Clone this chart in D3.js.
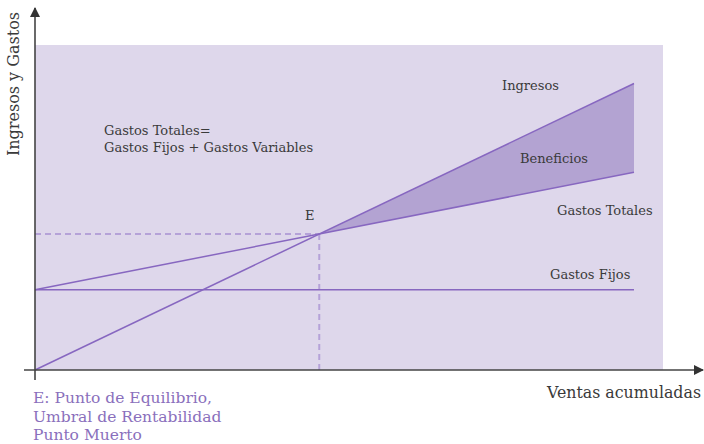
<!DOCTYPE html>
<html>
<head>
<meta charset="UTF-8">
<title>Punto de Equilibrio</title>
<style>
body { margin:0; background:#fff; }
svg { display:block; font-family:"DejaVu Serif", "Liberation Serif", serif; }
.lbl { fill:#3a3a3a; font-size:13px; }
.note { fill:#8a6fbc; font-size:15.5px; }
</style>
</head>
<body>
<svg width="704" height="444"></svg>
<script src="https://cdn.jsdelivr.net/npm/d3@7"></script>
<script>
// ventas (0-100) and the three lines, in arbitrary units
const ventas = [0, 100];
const ingresos = [0, 100];
const gastosFijos = [28, 28];
const gastosTotales = [28, 69];
const labels = [
  {t:'Ingresos', x:502, y:90},
  {t:'Beneficios', x:520, y:163},
  {t:'Gastos Totales', x:557, y:215},
  {t:'Gastos Fijos', x:550, y:279},
  {t:'E', x:305, y:220},
  {t:'Gastos Totales=', x:104, y:135},
  {t:'Gastos Fijos + Gastos Variables', x:104, y:152}
];
const notes = ['E: Punto de Equilibrio,', 'Umbral de Rentabilidad', 'Punto Muerto'];

const svg = d3.select('svg');
const x = d3.scaleLinear().domain([0, 100]).range([35, 634]);
const y = d3.scaleLinear().domain([0, 100]).range([370, 83.5]);

// plot background
svg.append('rect').attr('x', 35).attr('y', 45).attr('width', 628).attr('height', 325).attr('fill', '#ded7eb');

// break-even point
const be = gastosFijos[0] / (1 - (gastosTotales[1] - gastosTotales[0]) / (ventas[1] - ventas[0]));
const ingAt = v => d3.scaleLinear().domain(ventas).range(ingresos)(v);
const gtAt = v => d3.scaleLinear().domain(ventas).range(gastosTotales)(v);

// beneficios area
svg.append('path')
  .datum([be, ventas[1]])
  .attr('fill', '#b3a3d2')
  .attr('d', d3.area().x(d => x(d)).y0(d => y(gtAt(d))).y1(d => y(ingAt(d))));

// dashed guides
svg.append('line').attr('x1', x(0)).attr('x2', x(be)).attr('y1', y(ingAt(be))).attr('y2', y(ingAt(be)))
  .attr('stroke', '#b5a2d8').attr('stroke-width', 2).attr('stroke-dasharray', '6,4');
svg.append('line').attr('x1', x(be)).attr('x2', x(be)).attr('y1', y(ingAt(be))).attr('y2', y(0))
  .attr('stroke', '#b5a2d8').attr('stroke-width', 2).attr('stroke-dasharray', '6,4');

const line = d3.line().x(d => x(d[0])).y(d => y(d[1]));
[ingresos, gastosFijos, gastosTotales].forEach(s => {
  svg.append('path').datum(ventas.map((v, i) => [v, s[i]]))
    .attr('fill', 'none').attr('stroke', '#8767c0').attr('stroke-width', 1.5).attr('d', line);
});

// axes with arrows
svg.append('defs').append('marker').attr('id', 'arr').attr('viewBox', '0 0 10 10')
  .attr('refX', 9).attr('refY', 5).attr('markerWidth', 10).attr('markerHeight', 10)
  .attr('markerUnits', 'userSpaceOnUse').attr('orient', 'auto')
  .append('path').attr('d', 'M0,0L10,5L0,10Z').attr('fill', '#333');
svg.append('line').attr('x1', 35).attr('x2', 35).attr('y1', 380).attr('y2', 8)
  .attr('stroke', '#444').attr('stroke-width', 1.6).attr('marker-end', 'url(#arr)');
svg.append('line').attr('x1', 24).attr('x2', 703).attr('y1', 370).attr('y2', 370)
  .attr('stroke', '#444').attr('stroke-width', 1.6).attr('marker-end', 'url(#arr)');

// text
svg.selectAll('.lbl').data(labels).enter().append('text').attr('class', 'lbl')
  .attr('x', d => d.x).attr('y', d => d.y).text(d => d.t);
svg.append('text').attr('class', 'lbl').style('font-size', '15.8px').attr('text-anchor', 'end')
  .attr('x', 701).attr('y', 398).text('Ventas acumuladas');
svg.append('text').attr('class', 'lbl').style('font-size', '16px').attr('text-anchor', 'middle')
  .attr('transform', 'translate(19,84) rotate(-90)').text('Ingresos y Gastos');
svg.selectAll('.note').data(notes).enter().append('text').attr('class', 'note')
  .attr('x', 33).attr('y', (d, i) => 403 + i * 18.5).text(d => d);
</script>
</body>
</html>
